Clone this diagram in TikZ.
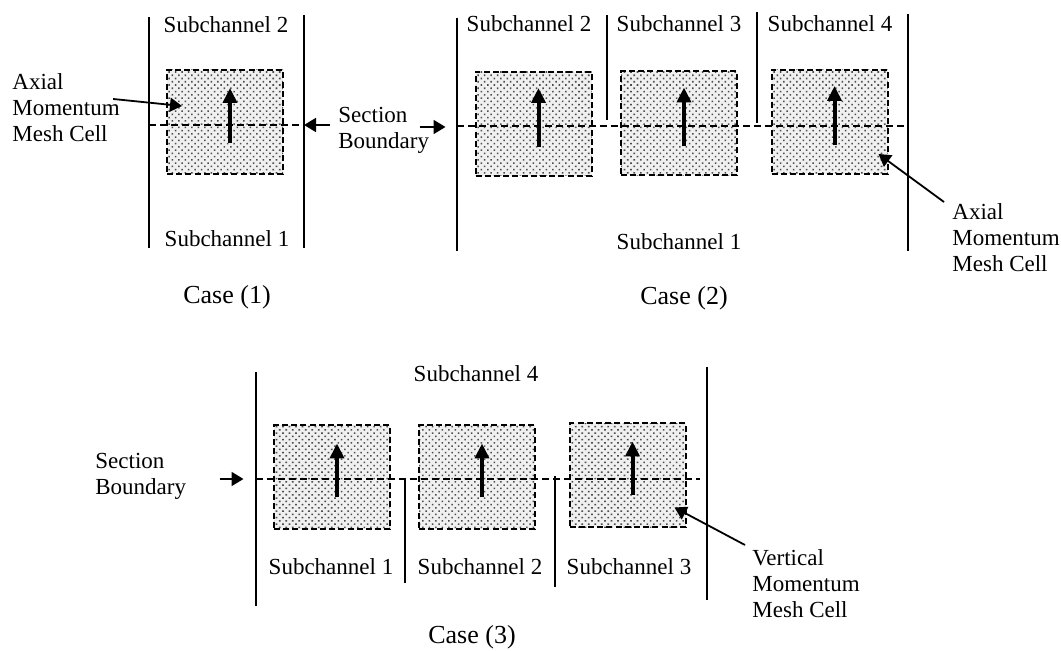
\documentclass[tikz,border=0pt]{standalone}
\usepackage{fontspec}
\setmainfont{Liberation Serif}
\usetikzlibrary{arrows.meta,patterns.meta}

\begin{document}
\begin{tikzpicture}[
  x=0.5pt, y=-0.5pt,
  font=\fontsize{11.5}{13}\selectfont,
  wall/.style={line width=1pt},
  sect/.style={line width=0.7pt, dash pattern=on 3.5pt off 2pt},
  cell/.style={draw, line width=1pt, dash pattern=on 3pt off 1.6pt,
               minimum width=58pt, minimum height=52pt, inner sep=0pt,
               preaction={fill=black!6},
               pattern={Dots[distance=2.3pt, angle=45, radius=0.55pt]},
               pattern color=black!70},
  flow/.style={-{Triangle[length=7.5pt, width=7pt]}, line width=2pt},
  ptr/.style={-{Triangle[length=6pt, width=7pt]}, line width=0.9pt},
  sc/.style={inner sep=1pt},
  note/.style={align=left, inner sep=0pt, anchor=west},
  casetxt/.style={font=\fontsize{13}{15}\selectfont}
]
\useasboundingbox (0,0) rectangle (1061,651);

% ---------- case (1) ----------
\draw[wall] (149,17) -- (149,248);
\draw[wall] (304,15) -- (304,248);
\node[cell] (a1) at (225,122) {};
\draw[sect] (149,125) -- (303,125);
\draw[flow] ([shift={(5,21)}]a1.center) -- ([shift={(5,-34)}]a1.center);

\node[sc] (a1top) at (226,25)  {Subchannel 2};
\node[sc] (a1bot) at (227,239) {Subchannel 1};
\node[casetxt] (case1) at (227,297) {Case (1)};

\node[note] (ax1) at (12,108) {Axial\\Momentum\\Mesh Cell};
\draw[ptr] ([shift={(-7,-9)}]ax1.east) -- ([shift={(16,-16)}]a1.west);

% ---------- section boundary between the cases ----------
\node[note] (sb1) at (338,130) {Section\\Boundary};
\draw[ptr] ([shift={(-8,-5)}]sb1.west) -- ++(-26,0);
\draw[ptr] ([shift={(-10,-3)}]sb1.east) -- ++(26,0);

% ---------- case (2) ----------
\draw[wall] (457,18) -- (457,251);
\draw[wall] (607,15) -- (607,120);
\draw[wall] (757,12) -- (757,123);
\draw[wall] (908,14) -- (908,251);
\node[cell] (b1) at (533.5,124) {};
\node[cell] (b2) at (679,123.5) {};
\node[cell] (b3) at (829.5,122) {};
\draw[sect] (457,126) -- (905,126);
\foreach \c in {b1,b2,b3}
  \draw[flow] ([shift={(5,23)}]\c.center) -- ([shift={(5,-36)}]\c.center);

\node[sc] (b1top) at (529,24)  {Subchannel 2};
\node[sc] (b2top) at (679,24)  {Subchannel 3};
\node[sc] (b3top) at (830,24)  {Subchannel 4};
\node[sc] (bbot)  at (679,242) {Subchannel 1};
\node[casetxt] (case2) at (684,298) {Case (2)};

\node[note] (ax2) at (952,238) {Axial\\Momentum\\Mesh Cell};
\draw[ptr] ([shift={(-8,-36)}]ax2.west) -- ([shift={(-10,-21)}]b3.south east);

% ---------- case (3) ----------
\draw[wall] (256,372) -- (256,606);
\draw[wall] (405,478) -- (405,583);
\draw[wall] (555,476) -- (555,587);
\draw[wall] (707,367) -- (707,600);
\node[cell] (c1) at (332,477.5) {};
\node[cell] (c2) at (477,477.5) {};
\node[cell] (c3) at (627.5,475.5) {};
\draw[sect] (256,479) -- (700,479);
\foreach \c in {c1,c2,c3}
  \draw[flow] ([shift={(5,20)}]\c.center) -- ([shift={(5,-34)}]\c.center);

\node[sc] (ctop) at (476,374) {Subchannel 4};
\node[sc] (c1bot) at (331,567) {Subchannel 1};
\node[sc] (c2bot) at (480,567) {Subchannel 2};
\node[sc] (c3bot) at (629,567) {Subchannel 3};
\node[casetxt] (case3) at (472,637) {Case (3)};

\node[note] (sb3) at (95,476) {Section\\Boundary};
\draw[ptr] ([shift={(33,3)}]sb3.east) -- ++(24,0);

\node[note] (vm) at (752,584) {Vertical\\Momentum\\Mesh Cell};
\draw[ptr] ([shift={(-7,-39)}]vm.west) -- ([shift={(-12,-21)}]c3.south east);

\end{tikzpicture}
\end{document}
